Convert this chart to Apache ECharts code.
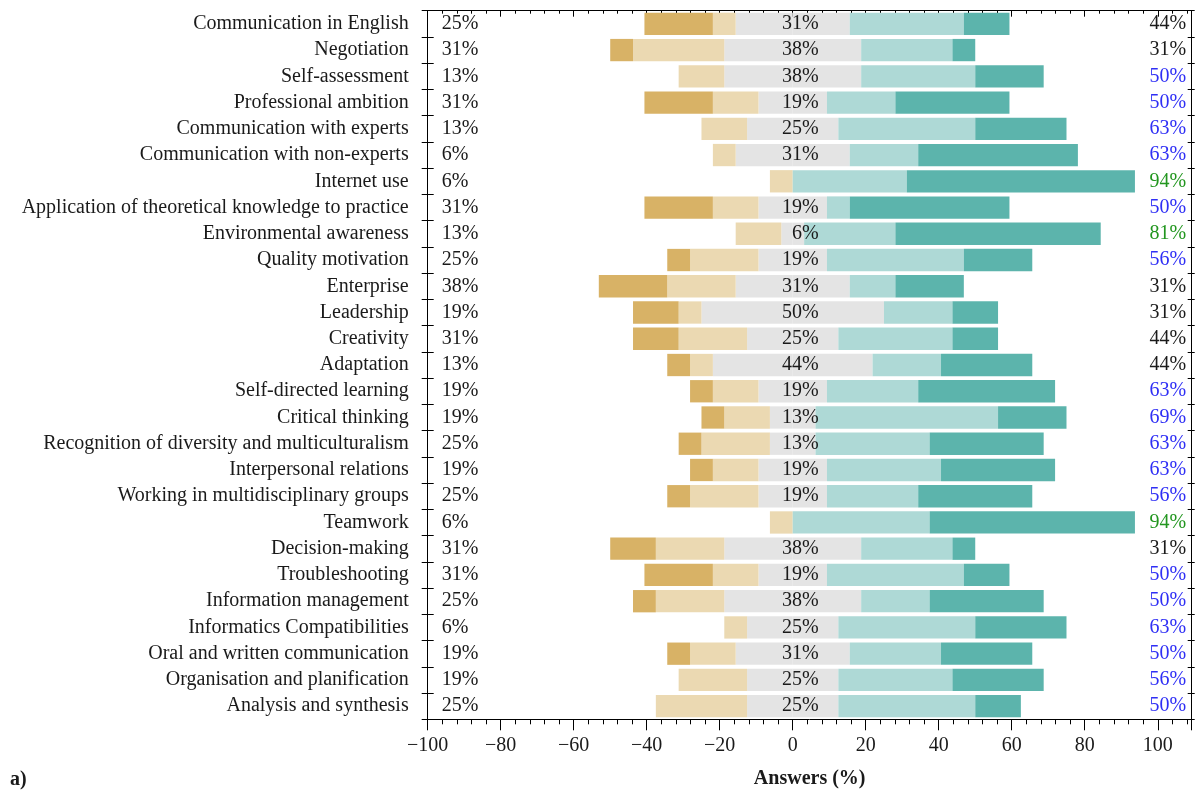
<!DOCTYPE html>
<html>
<head>
<meta charset="utf-8">
<title>Answers (%)</title>
<script src="https://cdn.jsdelivr.net/npm/echarts@6/dist/echarts.min.js"></script>
<style>
  html, body { margin: 0; padding: 0; background: #ffffff; }
  #chart { width: 1198px; height: 792px; }
</style>
</head>
<body>
<div id="chart"></div>
<script>
// Competences, listed top to bottom
const categories = [
  'Communication in English',
  'Negotiation',
  'Self-assessment',
  'Professional ambition',
  'Communication with experts',
  'Communication with non-experts',
  'Internet use',
  'Application of theoretical knowledge to practice',
  'Environmental awareness',
  'Quality motivation',
  'Enterprise',
  'Leadership',
  'Creativity',
  'Adaptation',
  'Self-directed learning',
  'Critical thinking',
  'Recognition of diversity and multiculturalism',
  'Interpersonal relations',
  'Working in multidisciplinary groups',
  'Teamwork',
  'Decision-making',
  'Troubleshooting',
  'Information management',
  'Informatics Compatibilities',
  'Oral and written communication',
  'Organisation and planification',
  'Analysis and synthesis'
];

// Share of answers (%) per level, same order as categories
const stronglyDisagree = [18.75, 6.25, 0, 18.75, 0, 0, 0, 18.75, 0, 6.25, 18.75, 12.5, 12.5, 6.25, 6.25, 6.25, 6.25, 6.25, 6.25, 0, 12.5, 18.75, 6.25, 0, 6.25, 0, 0];
const disagree         = [6.25, 25, 12.5, 12.5, 12.5, 6.25, 6.25, 12.5, 12.5, 18.75, 18.75, 6.25, 18.75, 6.25, 12.5, 12.5, 18.75, 12.5, 18.75, 6.25, 18.75, 12.5, 18.75, 6.25, 12.5, 18.75, 25];
const neutral          = [31.25, 37.5, 37.5, 18.75, 25, 31.25, 0, 18.75, 6.25, 18.75, 31.25, 50, 25, 43.75, 18.75, 12.5, 12.5, 18.75, 18.75, 0, 37.5, 18.75, 37.5, 25, 31.25, 25, 25];
const agree            = [31.25, 25, 31.25, 18.75, 37.5, 18.75, 31.25, 6.25, 25, 37.5, 12.5, 18.75, 31.25, 18.75, 25, 50, 31.25, 31.25, 25, 37.5, 25, 37.5, 18.75, 37.5, 25, 31.25, 37.5];
const stronglyAgree    = [12.5, 6.25, 18.75, 31.25, 25, 43.75, 62.5, 43.75, 56.25, 18.75, 18.75, 12.5, 12.5, 25, 37.5, 18.75, 31.25, 31.25, 31.25, 56.25, 6.25, 12.5, 31.25, 25, 25, 25, 12.5];

// Axis range and tick values
const xMin = -100;
const xMax = 109.3;
const majorStep = 20;
const minorStep = 4;

const COLORS = {
  stronglyDisagree: '#d8b266',
  disagree: '#ebd9b2',
  neutral: '#e4e4e4',
  agree: '#aed9d6',
  stronglyAgree: '#5cb4ac'
};
const TEXT = '#1a1a1a';
const FONT = '"Liberation Serif", "DejaVu Serif", serif';

const negTotals = categories.map((_, i) => stronglyDisagree[i] + disagree[i]);
const posTotals = categories.map((_, i) => agree[i] + stronglyAgree[i]);
const pct = v => Math.round(v) + '%';
const posColor = v => (v >= 80 ? '#22961f' : v >= 50 ? '#2f2ff5' : TEXT);

const bar = (name, values, color) => ({
  name: name,
  type: 'bar',
  stack: 'likert',
  xAxisIndex: 0,
  yAxisIndex: 0,
  data: values,
  barCategoryGap: '15%',
  itemStyle: { color: color },
  silent: true
});

const labelSeries = (points, texts, colors, position, align) => ({
  type: 'scatter',
  xAxisIndex: 0,
  yAxisIndex: 0,
  symbolSize: 0,
  clip: false,
  silent: true,
  z: 5,
  itemStyle: { opacity: 1 },
  data: points.map((p, i) => ({
    value: p,
    label: { color: colors[i] }
  })),
  label: {
    show: true,
    position: position,
    align: align,
    verticalAlign: 'middle',
    fontFamily: FONT,
    fontSize: 20,
    opacity: 1,
    textBorderWidth: 0,
    formatter: p => texts[p.dataIndex]
  }
});

const tickFormatter = v => {
  if (Math.abs(v % majorStep) > 1e-6 || v > 100) return '';
  return v < 0 ? '\u2212' + Math.abs(v) : String(v);
};

const centerIdx = categories.map((_, i) => i).filter(i => neutral[i] > 0);

const hiddenLine = { show: false, onZero: false };
const line = { show: true, onZero: false, lineStyle: { color: '#000', width: 1 } };

const baseX = {
  type: 'value',
  min: xMin,
  max: xMax,
  splitLine: { show: false },
  axisLabel: { show: false },
  axisLine: hiddenLine,
  axisTick: { show: false }
};
const baseY = {
  type: 'category',
  data: categories,
  inverse: true,
  boundaryGap: true,
  splitLine: { show: false },
  axisLabel: { show: false },
  axisLine: hiddenLine,
  axisTick: { show: false }
};

const option = {
  animation: false,
  backgroundColor: '#ffffff',
  textStyle: { fontFamily: FONT },
  grid: {
    left: 427.7,
    right: 6.3,
    top: 10.7,
    bottom: 72.7,
    containLabel: false,
    outerBoundsMode: 'none'
  },
  xAxis: [
    Object.assign({}, baseX, {
      position: 'bottom',
      interval: minorStep,
      axisLine: line,
      axisTick: { show: true, inside: false, length: 5, lineStyle: { color: '#000' } },
      axisLabel: {
        show: true,
        margin: 16,
        color: TEXT,
        fontFamily: FONT,
        fontSize: 20,
        showMaxLabel: false,
        formatter: tickFormatter
      },
      name: 'Answers (%)',
      nameLocation: 'middle',
      nameGap: 50,
      nameTextStyle: { fontFamily: FONT, fontSize: 20, fontWeight: 'bold', color: TEXT }
    }),
    Object.assign({}, baseX, {
      position: 'bottom',
      interval: majorStep,
      axisTick: { show: true, inside: false, length: 11, lineStyle: { color: '#000' } }
    }),
    Object.assign({}, baseX, {
      position: 'top',
      interval: minorStep,
      axisLine: line,
      axisTick: { show: true, inside: true, length: 3, lineStyle: { color: '#000' } }
    }),
    Object.assign({}, baseX, {
      position: 'top',
      interval: majorStep,
      axisTick: { show: true, inside: true, length: 6, lineStyle: { color: '#000' } }
    })
  ],
  yAxis: [
    Object.assign({}, baseY, {
      position: 'left',
      axisLine: line,
      axisTick: { show: true, inside: false, length: 6, lineStyle: { color: '#000' } },
      axisLabel: { show: true, margin: 19, color: TEXT, fontFamily: FONT, fontSize: 20, interval: 0 }
    }),
    Object.assign({}, baseY, {
      position: 'left',
      axisTick: { show: true, inside: true, length: 6, lineStyle: { color: '#000' } }
    }),
    Object.assign({}, baseY, {
      position: 'right',
      axisLine: line,
      axisTick: { show: true, inside: false, length: 3, lineStyle: { color: '#000' } }
    }),
    Object.assign({}, baseY, {
      position: 'right',
      axisTick: { show: true, inside: true, length: 4, lineStyle: { color: '#000' } }
    })
  ],
  series: [
    bar('Neutral', neutral.map(v => -v / 2), COLORS.neutral),
    bar('Neutral', neutral.map(v => v / 2), COLORS.neutral),
    bar('Disagree', disagree.map(v => -v), COLORS.disagree),
    bar('Strongly disagree', stronglyDisagree.map(v => -v), COLORS.stronglyDisagree),
    bar('Agree', agree, COLORS.agree),
    bar('Strongly agree', stronglyAgree, COLORS.stronglyAgree),
    // share of negative answers, left side
    labelSeries(
      categories.map((_, i) => [xMin, i]),
      negTotals.map(pct),
      negTotals.map(() => TEXT),
      [14, 0], 'left'
    ),
    // share of neutral answers, around zero
    labelSeries(
      centerIdx.map(i => [0, i]),
      centerIdx.map(i => pct(neutral[i])),
      centerIdx.map(() => TEXT),
      [26, 0], 'right'
    ),
    // share of positive answers, right side
    labelSeries(
      categories.map((_, i) => [xMax, i]),
      posTotals.map(pct),
      posTotals.map(posColor),
      [-5.5, 0], 'right'
    )
  ],
  graphic: [
    {
      type: 'text',
      left: 10,
      top: 770,
      silent: true,
      style: { text: 'a)', fontFamily: FONT, fontSize: 20, fontWeight: 'bold', fill: TEXT }
    }
  ]
};

const chart = echarts.init(document.getElementById('chart'), null, { renderer: 'canvas' });
chart.setOption(option);
</script>
</body>
</html>
